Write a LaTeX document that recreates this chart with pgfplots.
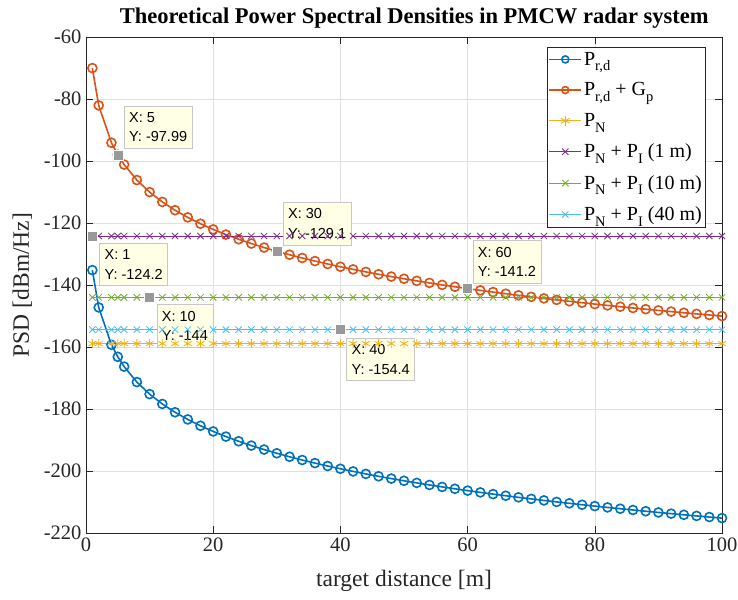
\documentclass[border=0pt]{standalone}
\usepackage{fontspec}
\setmainfont{Liberation Serif}
\newfontfamily\tipfont{Liberation Sans}
\usepackage{pgfplots}
\usepackage{pgfplotstable}
\pgfplotsset{compat=1.18}
\definecolor{mblue}{rgb}{0,0.447,0.741}
\definecolor{morange}{rgb}{0.85,0.325,0.098}
\definecolor{myellow}{rgb}{0.929,0.694,0.125}
\definecolor{mpurple}{rgb}{0.494,0.184,0.556}
\definecolor{mgreen}{rgb}{0.466,0.674,0.188}
\definecolor{mcyan}{rgb}{0.301,0.745,0.933}
\definecolor{axgray}{rgb}{0.15,0.15,0.15}
\definecolor{tipfill}{rgb}{1,1,0.9}
\newcommand\sub[1]{\raisebox{-5.5pt}{\fontsize{14.5}{16}\selectfont #1}}

\pgfplotstableread{
x   prd      prdgp    pn      pi1     pi10    pi40
1   -135.20  -70.03   -158.9  -124.2  -144.0  -154.4
2   -147.24  -82.07   -158.9  -124.2  -144.0  -154.4
4   -159.28  -94.11   -158.9  -124.2  -144.0  -154.4
5   -163.16  -97.99   -158.9  -124.2  -144.0  -154.4
6   -166.33  -101.16  -158.9  -124.2  -144.0  -154.4
8   -171.32  -106.15  -158.9  -124.2  -144.0  -154.4
10  -175.20  -110.03  -158.9  -124.2  -144.0  -154.4
12  -178.37  -113.20  -158.9  -124.2  -144.0  -154.4
14  -181.05  -115.88  -158.9  -124.2  -144.0  -154.4
16  -183.36  -118.19  -158.9  -124.2  -144.0  -154.4
18  -185.41  -120.24  -158.9  -124.2  -144.0  -154.4
20  -187.24  -122.07  -158.9  -124.2  -144.0  -154.4
22  -188.90  -123.73  -158.9  -124.2  -144.0  -154.4
24  -190.41  -125.24  -158.9  -124.2  -144.0  -154.4
26  -191.80  -126.63  -158.9  -124.2  -144.0  -154.4
28  -193.09  -127.92  -158.9  -124.2  -144.0  -154.4
30  -194.28  -129.11  -158.9  -124.2  -144.0  -154.4
32  -195.41  -130.24  -158.9  -124.2  -144.0  -154.4
34  -196.46  -131.29  -158.9  -124.2  -144.0  -154.4
36  -197.45  -132.28  -158.9  -124.2  -144.0  -154.4
38  -198.39  -133.22  -158.9  -124.2  -144.0  -154.4
40  -199.28  -134.11  -158.9  -124.2  -144.0  -154.4
42  -200.13  -134.96  -158.9  -124.2  -144.0  -154.4
44  -200.94  -135.77  -158.9  -124.2  -144.0  -154.4
46  -201.71  -136.54  -158.9  -124.2  -144.0  -154.4
48  -202.45  -137.28  -158.9  -124.2  -144.0  -154.4
50  -203.16  -137.99  -158.9  -124.2  -144.0  -154.4
52  -203.84  -138.67  -158.9  -124.2  -144.0  -154.4
54  -204.50  -139.33  -158.9  -124.2  -144.0  -154.4
56  -205.13  -139.96  -158.9  -124.2  -144.0  -154.4
58  -205.74  -140.57  -158.9  -124.2  -144.0  -154.4
60  -206.33  -141.16  -158.9  -124.2  -144.0  -154.4
62  -206.90  -141.73  -158.9  -124.2  -144.0  -154.4
64  -207.45  -142.28  -158.9  -124.2  -144.0  -154.4
66  -207.98  -142.81  -158.9  -124.2  -144.0  -154.4
68  -208.50  -143.33  -158.9  -124.2  -144.0  -154.4
70  -209.00  -143.83  -158.9  -124.2  -144.0  -154.4
72  -209.49  -144.32  -158.9  -124.2  -144.0  -154.4
74  -209.97  -144.80  -158.9  -124.2  -144.0  -154.4
76  -210.43  -145.26  -158.9  -124.2  -144.0  -154.4
78  -210.88  -145.71  -158.9  -124.2  -144.0  -154.4
80  -211.32  -146.15  -158.9  -124.2  -144.0  -154.4
82  -211.75  -146.58  -158.9  -124.2  -144.0  -154.4
84  -212.17  -147.00  -158.9  -124.2  -144.0  -154.4
86  -212.58  -147.41  -158.9  -124.2  -144.0  -154.4
88  -212.98  -147.81  -158.9  -124.2  -144.0  -154.4
90  -213.37  -148.20  -158.9  -124.2  -144.0  -154.4
92  -213.75  -148.58  -158.9  -124.2  -144.0  -154.4
94  -214.13  -148.96  -158.9  -124.2  -144.0  -154.4
96  -214.49  -149.32  -158.9  -124.2  -144.0  -154.4
98  -214.85  -149.68  -158.9  -124.2  -144.0  -154.4
100 -215.20  -150.03  -158.9  -124.2  -144.0  -154.4
}\curves

\pgfplotstableread{
x   y
1   -124.2
5   -97.99
10  -144
30  -129.1
40  -154.4
60  -141.2
}\tips

\begin{document}
\begin{tikzpicture}
\begin{axis}[
  scale only axis,
  width=636pt, height=496pt,
  xmin=0, xmax=100, ymin=-220, ymax=-60,
  xtick={0,20,40,60,80,100},
  xticklabels={0,20,40,60,80,100},
  ytick={-220,-200,-180,-160,-140,-120,-100,-80,-60},
  yticklabels={-220,-200,-180,-160,-140,-120,-100,-80,-60},
  tick align=inside,
  major tick length=7pt,
  tick style={axgray, line width=0.6pt},
  axis line style={axgray, line width=0.6pt},
  grid=major,
  major grid style={black!12, line width=0.6pt},
  ticklabel style={font=\fontsize{20.5}{24}\selectfont, text=axgray},
  xticklabel style={yshift=-1pt},
  yticklabel style={xshift=-1pt},
  xlabel={target distance [m]},
  ylabel={PSD [dBm/Hz]},
  label style={font=\fontsize{23.5}{27}\selectfont, text=axgray},
  xlabel style={at={(axis description cs:0.5,-0.097)}, anchor=center},
  ylabel style={at={(axis description cs:-0.1,0.5)}, anchor=center},
  title={Theoretical Power Spectral Densities in PMCW radar system},
  title style={font=\fontsize{22.5}{26}\selectfont\bfseries, at={(axis description cs:0.516,1)}, anchor=center, yshift=13pt},
  legend style={at={(axis description cs:0.9733,0.98)}, anchor=north east,
    font=\fontsize{20}{24}\selectfont, draw=axgray,
    fill=white, inner xsep=1pt, inner ysep=3pt, row sep=12pt,
    cells={anchor=west}},
  legend image code/.code={\draw[mark repeat=2,mark phase=2] plot coordinates {(0pt,0pt) (16pt,0pt) (32pt,0pt)};},
  legend cell align=left,
  clip=false,
]
\addplot[mblue, line width=1.6pt, mark=o, mark size=4.5pt, mark options={line width=1.6pt}, legend image post style={line width=1.6pt, mark size=3.5pt}] table[x=x,y=prd] {\curves};
\addlegendentry{P\sub{r,d}}
\addplot[morange, line width=1.6pt, mark=o, mark size=4.5pt, mark options={line width=1.6pt}, legend image post style={line width=1.6pt, mark size=3.5pt}] table[x=x,y=prdgp] {\curves};
\addlegendentry{P\sub{r,d} + G\sub{p}}
\addplot[myellow, line width=0.8pt, mark=asterisk, mark size=4.5pt, legend image post style={line width=0.9pt, mark size=5pt}] table[x=x,y=pn] {\curves};
\addlegendentry{P\sub{N}}
\addplot[mpurple, line width=0.8pt, mark=x, mark size=4.5pt, legend image post style={line width=0.9pt}] table[x=x,y=pi1] {\curves};
\addlegendentry{P\sub{N} + P\sub{I} (1 m)}
\addplot[mgreen, line width=0.8pt, mark=x, mark size=4.5pt, legend image post style={line width=0.9pt}] table[x=x,y=pi10] {\curves};
\addlegendentry{P\sub{N} + P\sub{I} (10 m)}
\addplot[mcyan, line width=0.8pt, mark=x, mark size=4.5pt, legend image post style={line width=0.9pt}] table[x=x,y=pi40] {\curves};
\addlegendentry{P\sub{N} + P\sub{I} (40 m)}
\addplot[only marks, mark=square*, mark size=5pt, mark options={fill=black!40, draw=white, line width=0.5pt}, forget plot] table[x=x,y=y] {\tips};

\tikzset{tip/.style={fill=tipfill, draw=black!22, line width=0.6pt, align=left, inner xsep=5pt, inner ysep=6.5pt, font=\tipfont\fontsize{14.5}{19.5}\selectfont}}
\node[tip, anchor=south west, xshift=6pt, yshift=6pt] at (axis cs:5,-97.99) {X: 5\\Y: -97.99};
\node[tip, anchor=north west, xshift=7pt, yshift=-7pt] at (axis cs:1,-124.2) {X: 1\\Y: -124.2};
\node[tip, anchor=north west, xshift=7pt, yshift=-7pt] at (axis cs:10,-144) {X: 10\\Y: -144};
\node[tip, anchor=south west, xshift=6pt, yshift=6pt] at (axis cs:30,-129.1) {X: 30\\Y: -129.1};
\node[tip, anchor=north west, xshift=6pt, yshift=-8pt] at (axis cs:40,-154.4) {X: 40\\Y: -154.4};
\node[tip, anchor=south west, xshift=5pt, yshift=5pt] at (axis cs:60,-141.2) {X: 60\\Y: -141.2};

\path (rel axis cs:0,0) ++(-86pt,-66pt) coordinate (bbsw);
\path (rel axis cs:1,1) ++(16pt,37pt) coordinate (bbne);
\end{axis}
\pgfresetboundingbox
\path[use as bounding box] (bbsw) rectangle (bbne);
\end{tikzpicture}
\end{document}
